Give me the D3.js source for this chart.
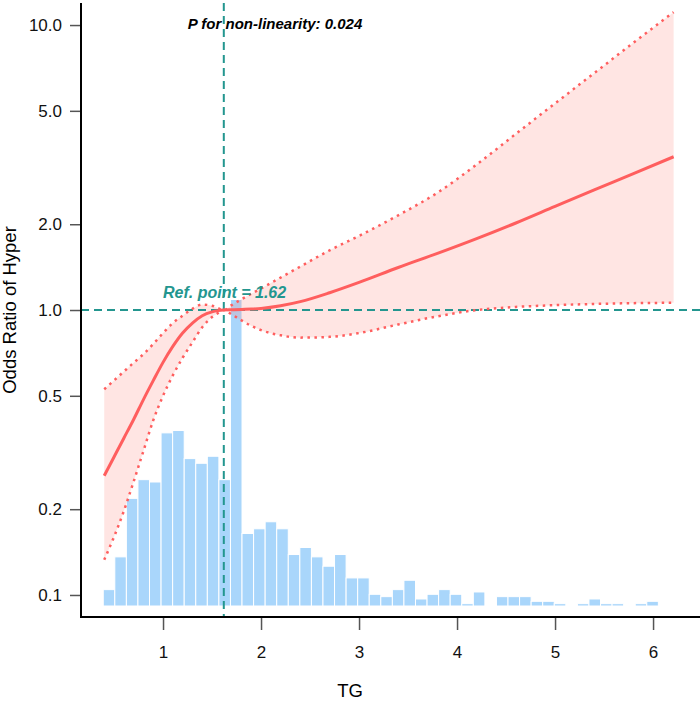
<!DOCTYPE html>
<html>
<head>
<meta charset="utf-8">
<script src="https://cdn.jsdelivr.net/npm/d3@7"></script>
<style>
  body { margin: 0; background: #fff; }
  svg text { font-family: "Liberation Sans", Arial, sans-serif; }
</style>
</head>
<body>
<div id="chart"></div>
<script>
// <-- data -->
var tg      = [0.40,0.50,0.60,0.70,0.80,0.90,1.00,1.10,1.20,1.30,1.40,1.50,1.56,1.62,1.70,1.80,1.90,2.00,2.20,2.40,2.70,3.00,3.40,3.80,4.20,4.60,5.00,5.40,5.80,6.21];
var or_mid  = [0.262,0.305,0.355,0.413,0.485,0.565,0.655,0.745,0.830,0.900,0.955,0.985,0.995,1.000,1.002,1.005,1.008,1.013,1.035,1.070,1.150,1.250,1.410,1.580,1.780,2.020,2.310,2.640,3.010,3.450];
var or_low  = [0.133,0.160,0.197,0.250,0.320,0.410,0.500,0.590,0.680,0.770,0.870,0.945,0.975,1.000,0.965,0.920,0.880,0.850,0.815,0.800,0.805,0.830,0.890,0.950,1.000,1.025,1.040,1.050,1.057,1.060];
var or_high = [0.527,0.566,0.608,0.653,0.700,0.760,0.830,0.900,0.955,1.010,1.045,1.035,1.015,1.000,1.040,1.090,1.140,1.190,1.300,1.420,1.620,1.820,2.150,2.580,3.240,4.150,5.310,6.780,8.670,11.10];

// histogram of TG (bin left edges, width 0.118)
var bin_left = [0.390,0.508,0.626,0.744,0.862,0.980,1.098,1.216,1.334,1.452,1.570,1.688,1.806,1.924,2.042,2.160,2.278,2.396,2.514,2.632,2.750,2.868,2.986,3.104,3.222,3.340,3.458,3.576,3.694,3.812,3.930,4.048,4.166,4.284,4.402,4.520,4.638,4.756,4.874,4.992,5.110,5.228,5.346,5.464,5.582,5.700,5.818,5.936];
var bin_count = [7,21,46,54,53,74,75,63,61,64,54,131,31,33,36,33,22,25,21,17,22,12,12,5,4,7,11,3,5,7,5,1,6,0,4,4,4,2,2,1,0,1,3,1,1,0,1,2];
var bin_width = 0.118;

var y_ticks = [0.1,0.2,0.5,1,2,5,10];
var x_ticks = [1,2,3,4,5,6];
var ref_point = 1.62;
var p_text = "P for non-linearity: 0.024";

;(function(){
  var width = 700, height = 701;
  var svg = d3.select("#chart").append("svg")
              .attr("width", width)
              .attr("height", height);

  var x = d3.scaleLinear().domain([0.163, 6.479]).range([81, 700]);
  var y = d3.scaleLog().domain([0.0837, 11.95]).range([617, 3]);
  var yh = d3.scaleLinear().domain([0, d3.max(bin_count)]).range([606, 299.5]);

  var red = "#FF5E5E", teal = "#23968F";

  // histogram
  svg.append("g").selectAll("rect")
     .data(bin_count)
     .enter()
     .append("rect")
     .attr("x", function(d,i){ return x(bin_left[i]); })
     .attr("width", function(d,i){ return x(bin_left[i] + bin_width) - x(bin_left[i]); })
     .attr("y", function(d){ return yh(d); })
     .attr("height", function(d){ return yh(0) - yh(d); })
     .attr("fill", function(d){ return d > 0 ? "#A9D6FB" : "none"; })
     .attr("stroke", "#fff")
     .attr("stroke-width", 1);

  var pts = tg.map(function(t,i){ return {t:t, m:or_mid[i], lo:or_low[i], hi:or_high[i]}; });

  // CI band
  var band = d3.area()
               .x(function(d){ return x(d.t); })
               .y0(function(d){ return y(d.lo); })
               .y1(function(d){ return y(d.hi); })
               .curve(d3.curveMonotoneX);
  svg.append("path").datum(pts)
     .attr("d", band)
     .attr("fill", "#FF8A80")
     .attr("fill-opacity", 0.22);

  // reference lines
  svg.append("line")
     .attr("x1", x.range()[0]).attr("x2", x.range()[1])
     .attr("y1", y(1)).attr("y2", y(1))
     .attr("stroke", teal).attr("stroke-width", 2)
     .attr("stroke-dasharray", "8,5");
  svg.append("line")
     .attr("x1", x(ref_point)).attr("x2", x(ref_point))
     .attr("y1", y.range()[1]).attr("y2", y.range()[0])
     .attr("stroke", teal).attr("stroke-width", 2)
     .attr("stroke-dasharray", "8,5");

  function curve(key){
    return d3.line()
             .x(function(d){ return x(d.t); })
             .y(function(d){ return y(d[key]); })
             .curve(d3.curveMonotoneX);
  }
  ["lo","hi"].forEach(function(k){
    svg.append("path").datum(pts)
       .attr("d", curve(k))
       .attr("fill", "none")
       .attr("stroke", red)
       .attr("stroke-width", 2.5)
       .attr("stroke-dasharray", "2.5,4.5");
  });
  svg.append("path").datum(pts)
     .attr("d", curve("m"))
     .attr("fill", "none")
     .attr("stroke", red)
     .attr("stroke-width", 3);

  // axes
  var yAxis = d3.axisLeft(y).tickValues(y_ticks)
                .tickFormat(d3.format(".1f")).tickSize(11).tickPadding(8);
  var gy = svg.append("g").attr("transform", "translate(81,0)").call(yAxis);
  var xAxis = d3.axisBottom(x).tickValues(x_ticks)
                .tickFormat(d3.format("d")).tickSize(13).tickPadding(16);
  var gx = svg.append("g").attr("transform", "translate(0,617)").call(xAxis);
  [gx, gy].forEach(function(g){
    g.select(".domain").remove();
    g.selectAll(".tick line").attr("stroke", "#555").attr("stroke-width", 1.5);
    g.selectAll(".tick text").attr("font-size", 17).attr("fill", "#111");
  });
  svg.append("path")
     .attr("d", "M81," + y.range()[1] + "V617H700")
     .attr("fill", "none")
     .attr("stroke", "#000")
     .attr("stroke-width", 2);

  // titles
  svg.append("text")
     .attr("x", 350).attr("y", 697)
     .attr("text-anchor", "middle")
     .attr("font-size", 18.5)
     .text("TG");
  svg.append("text")
     .attr("transform", "translate(16,310) rotate(-90)")
     .attr("text-anchor", "middle")
     .attr("font-size", 18.5)
     .text("Odds Ratio of Hyper");

  svg.append("text")
     .attr("x", 275).attr("y", 29)
     .attr("text-anchor", "middle")
     .attr("font-size", 15)
     .attr("font-weight", "bold")
     .attr("font-style", "italic")
     .text(p_text);
  svg.append("text")
     .attr("x", 163).attr("y", 298)
     .attr("font-size", 16)
     .attr("font-weight", "bold")
     .attr("font-style", "italic")
     .attr("fill", teal)
     .text("Ref. point = " + ref_point);
})();
</script>
</body>
</html>
